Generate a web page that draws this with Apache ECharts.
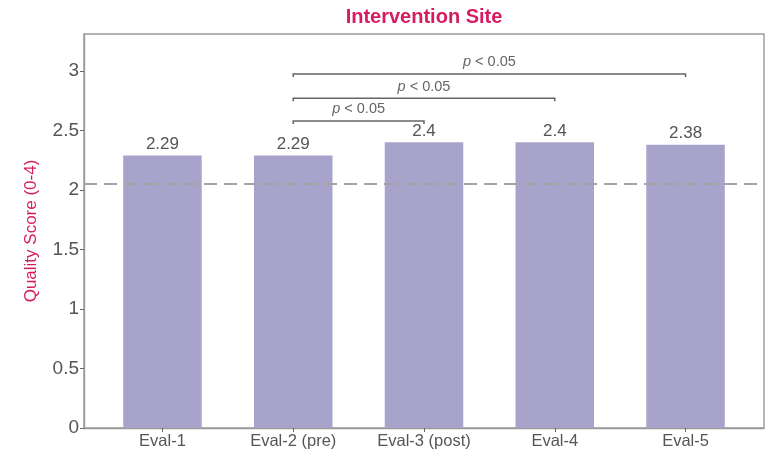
<!DOCTYPE html>
<html>
<head>
<meta charset="utf-8">
<script src="https://cdn.jsdelivr.net/npm/echarts@6/dist/echarts.min.js"></script>
<style>
  html, body { margin: 0; padding: 0; background: #fff; }
  #chart { width: 769px; height: 453px; }
</style>
</head>
<body>
<div id="chart"></div>
<script>
// Evaluation rounds and their mean quality scores
const categories = ['Eval-1', 'Eval-2 (pre)', 'Eval-3 (post)', 'Eval-4', 'Eval-5'];
const scores = [2.29, 2.29, 2.4, 2.4, 2.38];
const yTicks = [0, 0.5, 1, 1.5, 2, 2.5, 3];
const referenceLevel = 2.05;

// Significance brackets: compared rounds (1-based positions), bracket height, label
const bracketFrom = [2, 2, 2];
const bracketTo = [3, 4, 5];
const bracketLevel = [2.58, 2.77, 2.975];
const bracketText = ['p < 0.05', 'p < 0.05', 'p < 0.05'];

const pink = '#d81b60';
const font = "'Liberation Sans', Arial, sans-serif";
const positions = categories.map((c, i) => i + 1);

const chart = echarts.init(document.getElementById('chart'));

chart.setOption({
  animation: false,
  textStyle: { fontFamily: font },
  title: {
    text: 'Intervention Site',
    left: 424,
    textAlign: 'center',
    top: 7,
    padding: 0,
    textStyle: { color: pink, fontSize: 20, fontWeight: 'bold', fontFamily: font }
  },
  grid: {
    left: 84, right: 5, top: 34, bottom: 25,
    show: true, borderColor: '#9a9a9a', borderWidth: 1.4
  },
  xAxis: {
    type: 'value',
    min: 0.4, max: 5.6,
    splitLine: { show: false },
    axisLine: { show: true, lineStyle: { color: '#9a9a9a', width: 1.4 } },
    axisTick: { show: true, customValues: positions, length: 4, lineStyle: { color: '#666' } },
    axisLabel: {
      customValues: positions,
      formatter: v => categories[Math.round(v) - 1],
      color: '#555', fontSize: 16.5, margin: 5
    }
  },
  yAxis: {
    type: 'value',
    min: 0, max: 3.31,
    name: 'Quality Score (0-4)',
    nameLocation: 'middle',
    nameRotate: 90,
    nameGap: 44,
    nameTextStyle: { color: pink, fontSize: 17 },
    splitLine: { show: false },
    axisLine: { show: true, lineStyle: { color: '#9a9a9a', width: 1.4 } },
    axisTick: { show: true, customValues: yTicks, length: 4, lineStyle: { color: '#666' } },
    axisLabel: { customValues: yTicks, color: '#555', fontSize: 19, margin: 5 }
  },
  series: [
    {
      type: 'bar',
      data: positions.map((x, i) => [x, scores[i]]),
      barWidth: 78.5,
      itemStyle: { color: '#a7a3cb' },
      label: {
        show: true, position: 'top', distance: 3,
        formatter: p => String(p.value[1]),
        color: '#555', fontSize: 17
      },
      markLine: {
        silent: true,
        symbol: ['none', 'none'],
        label: { show: false },
        lineStyle: { color: '#a3a3a3', type: [13, 7], width: 1.8 },
        data: [{ yAxis: referenceLevel }]
      }
    },
    {
      type: 'custom',
      data: bracketFrom.map((f, i) => [f, bracketTo[i], bracketLevel[i]]),
      encode: { x: [0, 1], y: 2 },
      z: 5,
      renderItem: (params, api) => {
        const a = api.coord([api.value(0), api.value(2)]);
        const b = api.coord([api.value(1), api.value(2)]);
        const drop = 3;
        return {
          type: 'group',
          children: [
            {
              type: 'polyline',
              shape: { points: [[a[0], a[1] + drop], a, b, [b[0], b[1] + drop]] },
              style: { stroke: '#666', lineWidth: 1.5, fill: null }
            },
            {
              type: 'text',
              x: (a[0] + b[0]) / 2,
              y: a[1] - 4,
              style: {
                // italic "p" followed by the rest of the label
                text: bracketText[params.dataIndex].replace(/^p/, '{i|p}'),
                rich: { i: { fontStyle: 'italic', fontSize: 14.5, fill: '#666', fontFamily: font } },
                fontSize: 14.5,
                fill: '#666',
                fontFamily: font,
                align: 'center',
                verticalAlign: 'bottom'
              }
            }
          ]
        };
      }
    }
  ]
});
</script>
</body>
</html>
